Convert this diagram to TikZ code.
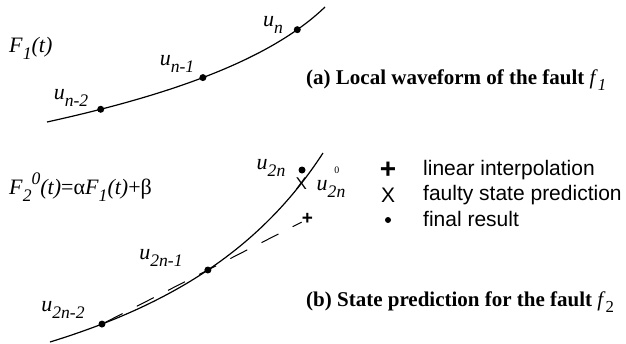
\documentclass[tikz,border=0pt]{standalone}
\usepackage{fontspec}
\setmainfont{Liberation Serif}
\setsansfont{Liberation Sans}
\usetikzlibrary{positioning,calc}
\newcommand{\lsub}[1]{\raisebox{-0.32em}{\scalebox{0.8}{#1}}}
\newcommand{\lsup}[1]{\raisebox{0.45em}{\scalebox{0.8}{#1}}}

\begin{document}
\begin{tikzpicture}[x=1pt,y=-1pt,
    ptdot/.style={circle,fill,inner sep=0pt,minimum size=7pt},
    lbl/.style={font=\fontsize{22}{26}\selectfont,inner sep=0pt},
    capt/.style={font=\fontsize{21}{25}\selectfont\bfseries,anchor=west,inner sep=0pt},
    legtxt/.style={font=\sffamily\fontsize{21}{25}\selectfont,anchor=base west,inner sep=0pt},
    mk/.style={font=\sffamily\fontsize{17}{17}\selectfont,inner sep=0pt}]
  \useasboundingbox (0,0) rectangle (626,343);
  %% (a) local waveform
  \draw[line width=1.2pt] (47,122) .. controls (170,95) and (270,60) .. (325,7)
       node[ptdot,pos=0.15] (un2) {}
       node[ptdot,pos=0.47] (un1) {}
       node[ptdot,pos=0.85] (un) {};
  \node[lbl,anchor=west] (fa) at (9,48) {\textit{F}\lsub{\textit{1}}\textit{(t)}};
  \node[lbl] (lun) at (273,25) {\textit{u}\lsub{\textit{n}}};
  \node[lbl] (lun1) at (177,64) {\textit{u}\lsub{\textit{n-1}}};
  \node[lbl] (lun2) at (71,98) {\textit{u}\lsub{\textit{n-2}}};
  \node[capt] (capa) at (306,80) {(a) Local waveform of the fault \textit{\mdseries f}\lsub{\textit{\mdseries 1}}};
  %% (b) state prediction
  \draw[line width=1.2pt] (50,342) .. controls (170,305) and (260,250) .. (323,153)
       node[ptdot,pos=0.15] (v2) {}
       node[ptdot,pos=0.5] (v1) {}
       node[mk,pos=0.89] (vx) {X};
  \node[ptdot] (vfin) at (302,170) {};
  \coordinate (vp) at ($(v2)!1.94!(v1)$);
  \node[mk,font=\sffamily\bfseries\fontsize{19}{19}\selectfont] (vplus) at (vp) {+};
  \draw[line width=1pt,dash pattern=on 19pt off 16pt] (v2) -- (vplus);
  \node[lbl,anchor=west] (fb) at (9,187)
       {\textit{F}\lsub{\textit{2}}\lsup{\textit{0}}\textit{(t)}=α\textit{F}\lsub{\textit{1}}\textit{(t)}+β};
  \node[lbl] (lv) at (271,168) {\textit{u}\lsub{\textit{2n}}};
  \node[lbl] (lv0) at (331,182) {\textit{u}\makebox[0pt][l]{\raisebox{0.75em}{\hspace{0.3em}\scalebox{0.45}{0}}}\lsub{\textit{2n}}};
  \node[lbl] (lv1) at (161,258) {\textit{u}\lsub{\textit{2n-1}}};
  \node[lbl] (lv2) at (63,310) {\textit{u}\lsub{\textit{2n-2}}};
  \node[capt] (capb) at (306,302) {(b) State prediction for the fault \textit{\mdseries f}\lsub{\mdseries 2}};
  %% legend
  \node[font=\sffamily\bfseries\fontsize{28}{28}\selectfont,inner sep=0pt] (lgplus) at (388,170) {+};
  \node[font=\sffamily\fontsize{21}{21}\selectfont,inner sep=0pt] (lgx) at (388,195) {X};
  \node[ptdot,minimum size=6pt] (lgdot) at (388,220) {};
  \node[legtxt] (lglin) at (423,175) {linear interpolation};
  \node[legtxt] (lgfsp) at (423,200) {faulty state prediction};
  \node[legtxt] (lgfin) at (423,226) {final result};
\end{tikzpicture}
\end{document}
